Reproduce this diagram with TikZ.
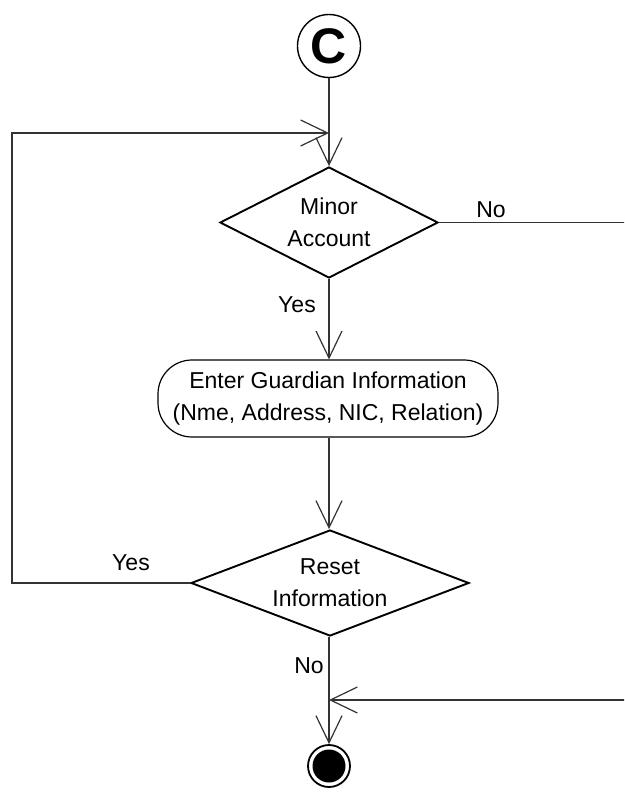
\documentclass[tikz,border=0pt]{standalone}
\usepackage{fontspec}
\setmainfont{Liberation Sans}
\usetikzlibrary{arrows.meta,shapes.geometric}
\begin{document}
\begin{tikzpicture}[x=1pt,y=-1pt,
  flow/.style={draw=black!80, line width=1.4pt},
  barb/.style={-{Straight Barb[length=27pt,width=26pt,line width=1.2pt]}},
  txt/.style={font=\fontsize{23}{32}\selectfont, align=center},
  decision/.style={diamond, draw=black, line width=1.9pt, inner sep=0pt, txt},
  action/.style={rectangle, rounded corners=34pt, draw=black, line width=1.2pt,
    minimum width=340pt, minimum height=77pt, inner sep=0pt, txt},
  label/.style={font=\fontsize{23}{28}\selectfont, inner sep=0pt}]
  \useasboundingbox (0,0) rectangle (624,795);
  \clip (0,0) rectangle (624,795);
  \fill[white] (0,0) rectangle (624,795);

  % start connector and decisions
  \node[circle, draw=black, line width=1.4pt, minimum size=63pt, inner sep=0pt,
        font=\fontsize{50}{50}\selectfont\bfseries] (start) at (329,46) {C};
  \node[decision, aspect=2, minimum width=218pt, minimum height=111pt]
        (minor) at (329,222.5) {Minor\\Account};
  \node[action] (guard) at (328,398.5)
        {Enter Guardian Information\\(Nme, Address, NIC, Relation)};
  \node[decision, aspect=2.6, minimum width=278pt, minimum height=106pt]
        (reset) at (330,583) {Reset\\Information};
  \node[circle, draw=black, line width=1.8pt, minimum size=42pt, inner sep=0pt,
        path picture={\fill[black] (path picture bounding box.center) circle (16.5);}]
        (finish) at (329,766) {};

  % routing points
  \coordinate (loopcorner) at (12,133);
  \coordinate (loopin) at (329,133);
  \coordinate (offtop) at (640,222.5);
  \coordinate (offbot) at (640,700);
  \coordinate (mergein) at (329,700);

  % connectors
  \draw[flow, barb] (start.south) -- (minor.north);
  \draw[flow, barb] (reset.west) -| (loopcorner) -- (loopin);
  \draw[flow] (minor.east) -- (offtop) -- (offbot);
  \draw[flow, barb] (offbot) -- (mergein);
  \draw[flow, barb] (minor.south) -- (guard.north -| minor.south);
  \draw[flow, barb] (guard.south -| minor.south) -- (reset.north -| minor.south);
  \draw[flow, barb] (reset.south -| minor.south) -- (finish.north);

  % branch labels
  \node[label] (noA) at (491,210) {No};
  \node[label] (yesA) at (297,305) {Yes};
  \node[label] (yesB) at (131,563) {Yes};
  \node[label] (noB) at (309,666) {No};
\end{tikzpicture}
\end{document}
